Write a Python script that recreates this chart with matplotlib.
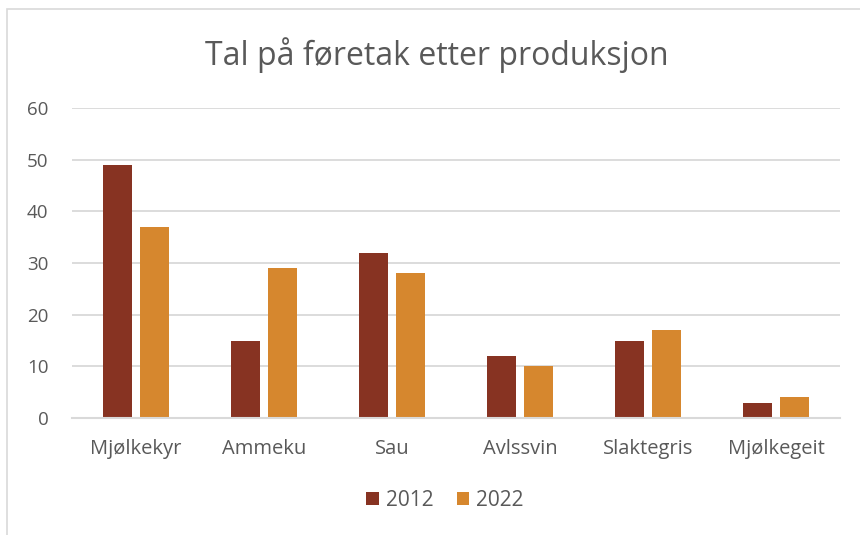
import matplotlib
matplotlib.use("Agg")
import matplotlib.pyplot as plt
from matplotlib.patches import Rectangle
import numpy as np

categories = ["Mjølkekyr", "Ammeku", "Sau", "Avlssvin", "Slaktegris", "Mjølkegeit"]
values_2012 = [49, 15, 32, 12, 15, 3]
values_2022 = [37, 29, 28, 10, 17, 4]
series_names = ["2012", "2022"]
yticks = [0, 10, 20, 30, 40, 50, 60]
title = "Tal på føretak etter produksjon"

c2012 = "#873322"
c2022 = "#D6872E"
txt = "#595959"
grid = "#D9D9D9"
font = ["Open Sans", "DejaVu Sans"]

fig = plt.figure(figsize=(8.6, 5.35), dpi=100)
W, H = 860, 535
ax = fig.add_axes([72 / W, 1 - 418 / H, (840 - 72) / W, (418 - 108) / H])

x = np.arange(len(categories))
bw = 0.226
gap = 0.0625
ax.bar(x - (bw + gap) / 2, values_2012, bw, color=c2012, label=series_names[0], zorder=3)
ax.bar(x + (bw + gap) / 2, values_2022, bw, color=c2022, label=series_names[1], zorder=3)

ax.set_xlim(-0.5, len(categories) - 0.5)
ax.set_ylim(0, 60)
ax.set_yticks(yticks)
ax.set_yticklabels([str(v) for v in yticks], family=font, fontsize=13.5, color=txt)
ax.set_xticks(x)
ax.set_xticklabels(categories, family=font, fontsize=14.5, color=txt)
ax.tick_params(axis="both", length=0)
ax.tick_params(axis="y", pad=17)
ax.tick_params(axis="x", pad=15)
ax.yaxis.grid(True, color=grid, linewidth=1.3, zorder=0)
for s in ["top", "right", "left"]:
    ax.spines[s].set_visible(False)
ax.spines["bottom"].set_color(grid)
ax.spines["bottom"].set_linewidth(1.5)
ax.spines["bottom"].set_zorder(4)

fig.text(437 / W, 1 - 55 / H, title, ha="center", va="center", family=font,
         fontsize=23, color=txt)

leg = fig.legend(loc="center", bbox_to_anchor=(445 / W, 1 - 500 / H), ncol=2,
                 frameon=False, prop={"family": font, "size": 15},
                 handlelength=0.6, handleheight=0.6, handletextpad=0.35,
                 columnspacing=1.1)
for t in leg.get_texts():
    t.set_color(txt)

fig.patches.append(Rectangle((7 / W, -0.1), 1.2, 1 - 9 / H + 0.1, transform=fig.transFigure,
                             fill=False, edgecolor=grid, linewidth=1.2))

fig.savefig("out.png", dpi=100, facecolor="white")
